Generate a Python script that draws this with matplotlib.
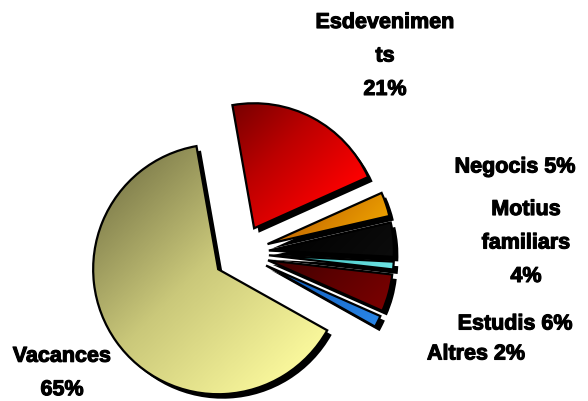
import numpy as np
import matplotlib
matplotlib.use("Agg")
import matplotlib.pyplot as plt
from matplotlib.colors import LinearSegmentedColormap
from matplotlib.transforms import ScaledTranslation
import matplotlib.patheffects as pe

# ---- data ----
categories = ["Esdeveniments", "Negocis", "Motius familiars", "(sense etiqueta)",
              "Estudis", "Altres", "Vacances"]
values = [21.0, 3.1, 4.4, 1.0, 4.8, 1.5, 63.9]
label_texts = ["Esdevenimen\nts\n21%", "Negocis 5%", "Motius\nfamiliars\n4%", "",
               "Estudis 6%", "Altres 2%", "Vacances\n65%"]
dark_colors = ["#780000", "#c46800", "#000000", "#2aa8a8", "#3a0000", "#0050b0", "#868450"]
mid_colors = ["#bc0000", "#d88400", "#060606", "#4cc8c8", "#5a0000", "#1a6ccc", "#cac87a"]
light_colors = ["#ff0000", "#eca000", "#0c0c0c", "#70e6e6", "#7a0000", "#2a86e6", "#faf89c"]

W, H = 588, 402
fig = plt.figure(figsize=(W / 100, H / 100), dpi=100)
ax = fig.add_axes([0, 0, 1, 1])
cx, cy, R = 241.0, 254.0, 125.0
ax.set_xlim(-cx / R, (W - cx) / R)
ax.set_ylim(-(H - cy) / R, cy / R)
ax.set_aspect("equal")
ax.axis("off")

explode = [0.224] * len(values)
start = 100.0

# shadows
shadow_wedges, _ = ax.pie(values, explode=explode, startangle=start, counterclock=False,
                          colors=["black"] * len(values), radius=1.0,
                          wedgeprops=dict(linewidth=0))
off = ScaledTranslation(4.5 / 100, -4.5 / 100, fig.dpi_scale_trans)
for w in shadow_wedges:
    w.set_transform(w.get_transform() + off)
    w.set_zorder(1)

wedges, _ = ax.pie(values, explode=explode, startangle=start, counterclock=False,
                   colors=dark_colors, radius=1.0,
                   wedgeprops=dict(linewidth=1.6, edgecolor="black"))

for w, c0, cm, c1 in zip(wedges, dark_colors, mid_colors, light_colors):
    w.set_zorder(3)
    w.set_facecolor("none")
    verts = w.get_path().vertices
    x0, x1 = verts[:, 0].min(), verts[:, 0].max()
    y0, y1 = verts[:, 1].min(), verts[:, 1].max()
    n = 240
    xs = np.linspace(x0, x1, n)
    ys = np.linspace(y1, y0, n)  # top row first
    gx, gy = np.meshgrid(xs, ys)
    proj = gx - gy
    pv = verts[:, 0] - verts[:, 1]
    grad = np.clip((proj - pv.min()) / (pv.max() - pv.min()), 0, 1)
    cmap = LinearSegmentedColormap.from_list("g", [(0, c0), (0.45, cm), (1, c1)])
    im = ax.imshow(grad, cmap=cmap, extent=(x0, x1, y0, y1), origin="upper",
                   interpolation="bilinear", zorder=2, aspect="auto", vmin=0, vmax=1)
    im.set_clip_path(w)

ax.set_xlim(-cx / R, (W - cx) / R)
ax.set_ylim(-(H - cy) / R, cy / R)

font = dict(family=["Liberation Sans", "DejaVu Sans"], weight="bold", fontsize=15.5,
            color="black", linespacing=1.78)
label_pos = [(385, 57), (515, 168), (526, 244), None, (515, 325), (476, 355), (62, 374)]
for txt, pos in zip(label_texts, label_pos):
    if pos is None or not txt:
        continue
    fig.text(pos[0] / W, 1 - pos[1] / H, txt, ha="center", va="center",
             multialignment="center",
             path_effects=[pe.withStroke(linewidth=0.8, foreground="black")], **font)

fig.savefig("out.png", dpi=100)
